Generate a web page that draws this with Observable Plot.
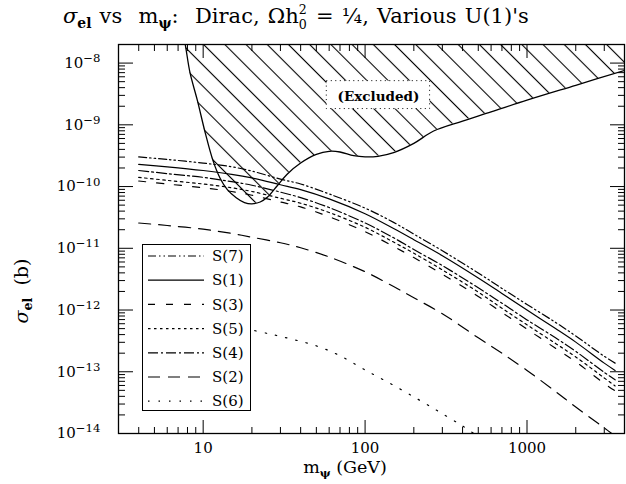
<!DOCTYPE html>
<html>
<head>
<meta charset="utf-8">
<script src="https://cdn.jsdelivr.net/npm/d3@7"></script>
<script src="https://cdn.jsdelivr.net/npm/@observablehq/plot@0.6"></script>
<style>
  body { margin: 0; background: #fff; font-family: "DejaVu Serif", serif; color: #000; }
  #wrap { position: relative; width: 626px; height: 484px; overflow: hidden; }
  #chart svg { display: block; }
  #title { position: absolute; left: 63px; top: 4px; font-size: 21px; word-spacing: 1.5px; white-space: nowrap; line-height: 1.2; }
  sub { font-size: 0.66em; vertical-align: -0.35em; line-height: 0; font-weight: bold; }
  .sp2 { font-size: 0.6em; vertical-align: 0.75em; line-height: 0; }
  .sb0 { font-size: 0.6em; vertical-align: -0.5em; line-height: 0; margin-left: -0.64em; margin-right: 0.1em; }
  #ylab { position: absolute; left: 21px; top: 291px; transform: translate(-50%, -50%) rotate(-90deg); font-size: 19px; white-space: nowrap; }
  #xlab { position: absolute; left: 345px; top: 468px; transform: translate(-50%, -50%); font-size: 17.5px; white-space: nowrap; line-height: 1.1; }
  #legend { position: absolute; left: 142px; top: 244px; width: 107px; height: 165px; border: 1.3px solid #000; background: #fff; }
</style>
</head>
<body>
<div id="wrap">
  <div id="chart"></div>
  <div id="title"><i>σ</i><sub>el</sub> vs&nbsp; m<sub>ψ</sub>:&nbsp; Dirac, Ωh<span class="sp2">2</span><span class="sb0">0</span> = ¼, Various U(1)'s</div>
  <div id="ylab"><i>σ</i><sub>el</sub>&nbsp; (b)</div>
  <div id="xlab">m<sub>ψ</sub> (GeV)</div>
  <div id="legend"></div>
</div>
<script>
// ---- data ----
const mass = [4, 6, 10, 15, 20, 30, 40, 60, 100, 150, 200, 300, 500, 700, 1000, 1500, 2000, 3000, 3500];
const sigS7 = [3.02e-10, 2.75e-10, 2.40e-10, 2.09e-10, 1.78e-10, 1.32e-10, 1.10e-10, 7.59e-11, 4.47e-11, 2.63e-11, 1.70e-11, 9.12e-12, 3.98e-12, 2.24e-12, 1.23e-12, 6.31e-13, 3.80e-13, 1.78e-13, 1.38e-13];
const sigS1 = [2.29e-10, 2.09e-10, 1.82e-10, 1.58e-10, 1.38e-10, 1.07e-10, 8.91e-11, 6.31e-11, 3.63e-11, 2.09e-11, 1.38e-11, 7.59e-12, 3.31e-12, 1.86e-12, 1.00e-12, 5.01e-13, 3.02e-13, 1.38e-13, 1.05e-13];
const sigS4 = [1.82e-10, 1.62e-10, 1.41e-10, 1.20e-10, 1.05e-10, 8.13e-11, 6.61e-11, 4.57e-11, 2.57e-11, 1.48e-11, 9.55e-12, 5.25e-12, 2.29e-12, 1.29e-12, 6.92e-13, 3.55e-13, 2.14e-13, 9.77e-14, 7.41e-14];
const sigS5 = [1.41e-10, 1.26e-10, 1.10e-10, 9.55e-11, 8.32e-11, 6.46e-11, 5.37e-11, 3.80e-11, 2.19e-11, 1.26e-11, 8.32e-12, 4.47e-12, 1.95e-12, 1.07e-12, 5.75e-13, 2.88e-13, 1.74e-13, 7.94e-14, 5.89e-14];
const sigS3 = [1.23e-10, 1.10e-10, 9.55e-11, 8.32e-11, 7.24e-11, 5.62e-11, 4.68e-11, 3.24e-11, 1.86e-11, 1.07e-11, 7.08e-12, 3.80e-12, 1.66e-12, 9.12e-13, 4.90e-13, 2.40e-13, 1.45e-13, 6.46e-14, 4.90e-14];
const sigS2 = [2.57e-11, 2.34e-11, 2.04e-11, 1.74e-11, 1.51e-11, 1.23e-11, 1.02e-11, 7.24e-12, 4.17e-12, 2.40e-12, 1.58e-12, 8.71e-13, 3.55e-13, 2.00e-13, 1.05e-13, 4.79e-14, 2.69e-14, 1.23e-14, 9.12e-15];
const massS6 = [18, 25, 35, 50, 70, 100, 150, 220, 300, 400, 500];
const sigS6 = [5.01e-13, 4.17e-13, 3.39e-13, 2.63e-13, 1.82e-13, 1.07e-13, 6.03e-14, 3.39e-14, 2.09e-14, 1.32e-14, 8.91e-15];
const massExcl = [7.3, 7.8, 8.3, 9.2, 10.3, 11.5, 12.7, 14.1, 16, 18, 20, 22.5, 25, 28.6, 33, 40, 50, 60, 70, 85, 100, 120, 150, 200, 265, 400, 600, 1000, 2000, 4000];
const sigExcl = [5.01e-8, 1.82e-8, 6.92e-9, 2.51e-9, 7.41e-10, 2.63e-10, 1.38e-10, 8.91e-11, 6.61e-11, 5.50e-11, 5.25e-11, 5.62e-11, 6.76e-11, 1.02e-10, 1.58e-10, 2.40e-10, 3.31e-10, 3.72e-10, 3.63e-10, 3.16e-10, 3.02e-10, 3.09e-10, 3.55e-10, 5.01e-10, 7.94e-10, 1.15e-9, 1.62e-9, 2.51e-9, 4.37e-9, 7.59e-9];
const exclTop = 1e-7;
const exclLabel = {text: "(Excluded)", m: 121, s: 2.85e-9};
const exclBox = {m1: 58, m2: 252, s1: 1.8e-9, s2: 5.1e-9};

const seriesNames = ["S(7)", "S(1)", "S(3)", "S(5)", "S(4)", "S(2)", "S(6)"];
const seriesDash  = ["8,3,1.5,3,1.5,3", null, "7,11", "2.5,3.5", "10,3,2,3", "12,8", "1.5,9"];

const xDomain = [3, 4000];
const yDomain = [1e-14, 2e-8];
const xMajor = [10, 100, 1000];
const xMinor = [4,5,6,7,8,9,20,30,40,50,60,70,80,90,200,300,400,500,600,700,800,900,2000,3000];
const yMajor = [1e-14, 1e-13, 1e-12, 1e-11, 1e-10, 1e-9, 1e-8];
const yMinor = [];
for (let e = -14; e <= -9; e++) for (let k = 2; k <= 9; k++) yMinor.push(+(k + "e" + e));
yMinor.push(2e-8);

// ---- build tables ----
const tbl = (ms, ss) => ms.map((m, i) => ({m, s: ss[i]}));
const seriesData = {
  "S(7)": tbl(mass, sigS7), "S(1)": tbl(mass, sigS1), "S(3)": tbl(mass, sigS3),
  "S(5)": tbl(mass, sigS5), "S(4)": tbl(mass, sigS4), "S(2)": tbl(mass, sigS2),
  "S(6)": tbl(massS6, sigS6)
};
const excl = tbl(massExcl, sigExcl);

const lineW = 1.2;
const curveMarks = seriesNames.map((name, i) =>
  Plot.line(seriesData[name], {x: "m", y: "s", stroke: "black", strokeWidth: lineW,
    strokeDasharray: seriesDash[i] || undefined, curve: "catmull-rom", clip: true}));

const noText = () => "";
const svg = Plot.plot({
  width: 626, height: 484,
  marginLeft: 118, marginRight: 2, marginTop: 44, marginBottom: 51,
  style: {fontFamily: "DejaVu Serif", fontSize: "15px", background: "white", color: "black"},
  x: {type: "log", domain: xDomain, axis: null},
  y: {type: "log", domain: yDomain, axis: null},
  marks: [
    Plot.areaY(excl, {x: "m", y1: "s", y2: exclTop, fill: "url(#hatch)", curve: "catmull-rom", clip: true}),
    Plot.line(excl, {x: "m", y: "s", stroke: "black", strokeWidth: 1.3, curve: "catmull-rom", clip: true}),
    Plot.rect([exclBox], {x1: "m1", x2: "m2", y1: "s1", y2: "s2", fill: "white", stroke: "black", strokeWidth: 1, strokeDasharray: "1,3.5"}),
    Plot.text([exclLabel], {x: "m", y: "s", text: "text", fontWeight: "bold", fontSize: 13.5}),
    ...curveMarks,
    // ticks (inward), all four sides
    Plot.axisX(xMajor, {anchor: "bottom", tickSize: -13, tickFormat: noText, label: null}),
    Plot.axisX(xMinor, {anchor: "bottom", tickSize: -6, tickFormat: noText, label: null}),
    Plot.axisX(xMajor, {anchor: "top", tickSize: -13, tickFormat: noText, label: null}),
    Plot.axisX(xMinor, {anchor: "top", tickSize: -6, tickFormat: noText, label: null}),
    Plot.axisY(yMajor, {anchor: "left", tickSize: -15, tickFormat: noText, label: null}),
    Plot.axisY(yMinor, {anchor: "left", tickSize: -7, tickFormat: noText, label: null}),
    Plot.axisY(yMajor, {anchor: "right", tickSize: -15, tickFormat: noText, label: null}),
    Plot.axisY(yMinor, {anchor: "right", tickSize: -7, tickFormat: noText, label: null}),
    // tick labels
    Plot.axisX(xMajor, {anchor: "bottom", tickSize: 0, tickPadding: 9, label: null, tickFormat: d => String(d)}),
    Plot.axisY(yMajor, {anchor: "left", tickSize: 0, tickPadding: 18, label: null, tickFormat: d => "10^" + Math.round(Math.log10(d))}),
    Plot.frame({stroke: "black", strokeWidth: 1.3})
  ]
});

// hatch pattern
const NS = "http://www.w3.org/2000/svg";
const defs = document.createElementNS(NS, "defs");
defs.innerHTML = '<pattern id="hatch" patternUnits="userSpaceOnUse" width="15" height="15" patternTransform="rotate(-45)"><line x1="7.5" y1="-1" x2="7.5" y2="16" stroke="black" stroke-width="1.1"/></pattern>';
svg.insertBefore(defs, svg.firstChild);

// superscript exponents in y tick labels
svg.querySelectorAll("text").forEach(t => {
  const m = /^10\^(-?\d+)$/.exec(t.textContent.trim());
  if (!m) return;
  t.textContent = "10";
  const sup = document.createElementNS(NS, "tspan");
  sup.setAttribute("dy", "-0.5em");
  sup.setAttribute("font-size", "0.78em");
  sup.textContent = m[1].replace("-", "\u2212");
  t.appendChild(sup);
});
document.getElementById("chart").appendChild(svg);

// legend
const lg = d3.select("#legend").append("svg").attr("width", 107).attr("height", 165)
  .style("font-family", "DejaVu Serif").style("font-size", "15px");
seriesNames.forEach((name, i) => {
  const y = 11 + i * 24.2;
  lg.append("line").attr("x1", 5).attr("x2", 61).attr("y1", y).attr("y2", y)
    .attr("stroke", "black").attr("stroke-width", lineW)
    .attr("stroke-dasharray", seriesDash[i]);
  lg.append("text").attr("x", 69).attr("y", y).attr("dy", "0.35em").text(name);
});
</script>
</body>
</html>
